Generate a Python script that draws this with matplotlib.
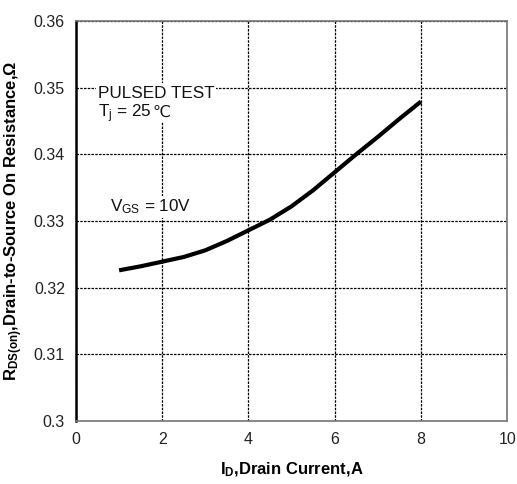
import matplotlib
matplotlib.use("Agg")
import matplotlib.pyplot as plt

plt.rcParams['font.family'] = ['Liberation Sans', 'DejaVu Sans']
plt.rcParams['mathtext.default'] = 'regular'

drain_current = [1, 1.5, 2, 2.5, 3, 3.5, 4, 4.5, 5, 5.5, 6, 6.5, 7, 7.5, 8]
rds_on = [0.3226, 0.3232, 0.3239, 0.3246, 0.3256, 0.3270, 0.3286, 0.3302,
          0.3322, 0.3346, 0.3373, 0.3400, 0.3426, 0.3453, 0.3479]

x_ticks = [0, 2, 4, 6, 8, 10]
y_ticks = [0.30, 0.31, 0.32, 0.33, 0.34, 0.35, 0.36]
y_tick_labels = ["0.3", "0.31", "0.32", "0.33", "0.34", "0.35", "0.36"]

fig = plt.figure(figsize=(5.17, 4.84), dpi=100)
ax = fig.add_axes([0.147, 0.130, 0.834, 0.827])

ax.plot(drain_current, rds_on, color='black', linewidth=3, solid_capstyle='butt',
        solid_joinstyle='round', zorder=3)

ax.set_xlim(0, 10)
ax.set_ylim(0.30, 0.36)
ax.set_xticks(x_ticks)
ax.set_yticks(y_ticks)
ax.set_yticklabels(y_tick_labels)
ax.tick_params(length=0, labelsize=11.5, pad=8, colors='#222222')

ax.grid(True, color='black', linestyle=(0, (2, 1)), linewidth=0.9)
ax.set_axisbelow(True)

for side in ['top', 'right', 'bottom']:
    ax.spines[side].set_color('#777777')
    ax.spines[side].set_linewidth(1.2)
ax.spines['left'].set_color('black')
ax.spines['left'].set_linewidth(1.8)

ax.set_xlabel("I$_D$,Drain Current,A", fontsize=12, fontweight='bold', labelpad=10)
ax.set_ylabel("R$_{DS(on)}$,Drain-to-Source On Resistance,Ω", fontsize=12,
              fontweight='bold', labelpad=6)

box = dict(facecolor='white', edgecolor='none', pad=1.5)
ax.text(0.5, 0.3485, "PULSED TEST", fontsize=12.3, va='baseline', ha='left',
        color='#111111', bbox=box, zorder=4)
tj = ax.text(0.5, 0.3456, "T$_j$ = 25", fontsize=12.3, va='baseline', ha='left',
             color='#111111', bbox=box, zorder=4)
fig.canvas.draw()
ext = tj.get_window_extent(renderer=fig.canvas.get_renderer())
x_right = ax.transData.inverted().transform((ext.x1, ext.y0))[0]
ax.text(x_right + 0.02, 0.3456, "℃", fontsize=11.5, va='baseline', ha='left',
        family=['DejaVu Sans'], color='#111111', bbox=box, zorder=4)
ax.text(0.78, 0.3314, "V$_{GS}$ = 10V", fontsize=12.3, va='baseline', ha='left',
        color='#111111', bbox=box, zorder=4)

fig.savefig("out.png", dpi=100)
